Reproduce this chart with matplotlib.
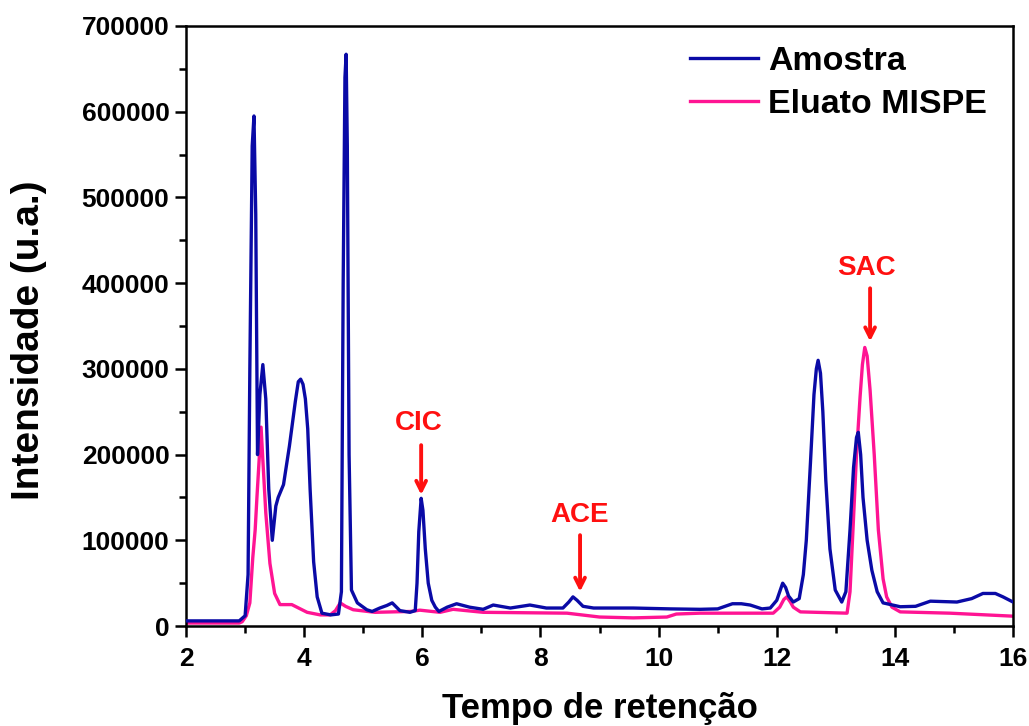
import matplotlib
matplotlib.use("Agg")
import matplotlib.pyplot as plt
from matplotlib.ticker import MultipleLocator

plt.rcParams['font.family'] = ['Liberation Sans', 'DejaVu Sans']
plt.rcParams['font.weight'] = 'bold'

# Amostra (azul)
amostra_t = [2.0, 2.9, 3.0, 3.05, 3.08, 3.12, 3.15, 3.18, 3.21, 3.25, 3.3, 3.35, 3.4,
             3.46, 3.52, 3.56, 3.65, 3.75, 3.85, 3.9, 3.94, 3.98, 4.02, 4.06, 4.1,
             4.16, 4.22, 4.3, 4.45, 4.58, 4.63, 4.66, 4.69, 4.71, 4.73, 4.76, 4.8, 4.9,
             5.06, 5.15, 5.28, 5.4, 5.49, 5.62, 5.79, 5.88, 5.91, 5.94, 5.98, 6.01,
             6.05, 6.1, 6.16, 6.22, 6.28, 6.42, 6.58, 6.8, 7.03, 7.2, 7.49, 7.82, 8.1,
             8.38, 8.48, 8.55, 8.62, 8.72, 8.9, 9.57, 10.2, 10.7, 11.0, 11.25, 11.4,
             11.55, 11.75, 11.89, 12.0, 12.06, 12.1, 12.15, 12.2, 12.28, 12.38, 12.45,
             12.5, 12.57, 12.63, 12.67, 12.7, 12.74, 12.78, 12.83, 12.9, 12.99, 13.1,
             13.17, 13.24, 13.3, 13.35, 13.38, 13.42, 13.46, 13.53, 13.61, 13.7, 13.8,
             14.09, 14.35, 14.6, 15.05, 15.3, 15.49, 15.7, 15.83, 16.0]
amostra_i = [6000, 6000, 12000, 60000, 300000, 560000, 595000, 480000, 200000, 270000,
             305000, 265000, 160000, 100000, 140000, 150000, 165000, 210000, 262000,
             285000, 288000, 282000, 265000, 230000, 160000, 75000, 34000, 15000,
             13000, 14000, 40000, 400000, 640000, 667000, 560000, 200000, 42000, 27000,
             19000, 17000, 21000, 24000, 27000, 18000, 16000, 18000, 50000, 110000,
             149000, 135000, 90000, 50000, 30000, 22000, 17000, 22000, 26000, 22000,
             19500, 24500, 21000, 24500, 21000, 21000, 28000, 34000, 30000, 23000,
             21000, 21000, 20000, 19500, 20000, 26000, 26000, 24500, 20000, 21000,
             30000, 42000, 50000, 45000, 35000, 28000, 32000, 60000, 100000, 190000,
             270000, 300000, 310000, 295000, 250000, 170000, 90000, 42000, 28000,
             40000, 112000, 185000, 220000, 226000, 200000, 150000, 100000, 65000,
             40000, 27000, 22500, 23000, 29000, 28000, 32000, 38000, 38000, 34000,
             28000]

# Eluato MISPE (rosa)
eluato_t = [2.0, 2.9, 2.95, 3.02, 3.08, 3.13, 3.17, 3.2, 3.24, 3.27, 3.3, 3.35, 3.42,
            3.5, 3.59, 3.79, 4.05, 4.27, 4.44, 4.53, 4.61, 4.7, 4.83, 5.2, 5.8, 5.96,
            6.3, 6.52, 7.03, 8.45, 9.0, 9.57, 10.14, 10.3, 10.7, 11.55, 11.94, 12.05,
            12.12, 12.17, 12.23, 12.28, 12.4, 13.19, 13.24, 13.29, 13.35, 13.41,
            13.45, 13.49, 13.53, 13.58, 13.65, 13.72, 13.8, 13.86, 13.95, 14.09,
            14.93, 16.0]
eluato_i = [3500, 3500, 5000, 12000, 27000, 80000, 112000, 150000, 197000, 232000,
            194000, 132000, 73000, 38000, 25000, 25000, 16000, 13000, 13000, 18000,
            27000, 23000, 19000, 16000, 17000, 18500, 16000, 19500, 16000, 15000,
            10500, 9500, 10500, 14000, 15000, 15000, 15000, 22000, 31000, 34000,
            28000, 22000, 16500, 15000, 40000, 112000, 200000, 267000, 305000,
            325000, 315000, 275000, 200000, 112000, 55000, 34000, 22000, 16500,
            15000, 11500]

# Anotações: rótulo, posição do texto, cauda e ponta da seta
picos = ['CIC', 'ACE', 'SAC']
pico_texto = [(5.94, 237000), (8.67, 129500), (13.51, 418000)]
pico_cauda = [(5.98, 211000), (8.67, 106000), (13.58, 394000)]
pico_ponta = [(5.98, 153000), (8.67, 40000), (13.58, 332000)]

fig = plt.figure(figsize=(10.29, 7.26), dpi=100)
ax = fig.add_axes([0.1808, 0.1377, 0.8037, 0.8265])

ax.plot(amostra_t, amostra_i, color='#0A0AA6', lw=2.4, label='Amostra', zorder=3)
ax.plot(eluato_t, eluato_i, color='#FF1493', lw=2.4, label='Eluato MISPE', zorder=2)

for nome, txt, cauda, ponta in zip(picos, pico_texto, pico_cauda, pico_ponta):
    ax.text(txt[0], txt[1], nome, color='#FF1010', fontsize=20, fontweight='bold',
            ha='center', va='center')
    ax.annotate('', xy=ponta, xytext=cauda,
                arrowprops=dict(arrowstyle='->, head_length=0.7, head_width=0.35',
                                color='#FF1010', lw=2.8, shrinkA=0, shrinkB=0))

ax.set_xlim(2, 16)
ax.set_ylim(0, 700000)
ax.xaxis.set_major_locator(MultipleLocator(2))
ax.xaxis.set_minor_locator(MultipleLocator(1))
ax.yaxis.set_major_locator(MultipleLocator(100000))
ax.yaxis.set_minor_locator(MultipleLocator(50000))
ax.tick_params(which='major', direction='out', length=8, width=1.8, labelsize=19, pad=4)
ax.tick_params(axis='x', which='major', pad=7)
ax.tick_params(which='minor', direction='out', length=5, width=1.8)
ax.tick_params(top=False, right=False, which='both')
for lab in ax.get_xticklabels() + ax.get_yticklabels():
    lab.set_fontweight('bold')
for s in ax.spines.values():
    s.set_linewidth(1.8)

ax.set_xlabel('Tempo de retenção', fontsize=25, fontweight='bold')
ax.xaxis.set_label_coords(0.5, -0.11)
ax.set_ylabel('Intensidade (u.a.)', fontsize=28, fontweight='bold')
ax.yaxis.set_label_coords(-0.168, 0.477)

ax.legend(loc='upper left', bbox_to_anchor=(0.609, 0.967), frameon=False,
          handlelength=2.0, handletextpad=0.3, labelspacing=0.35, borderpad=0,
          borderaxespad=0, prop={'weight': 'bold', 'size': 24.5})

fig.savefig('out.png', dpi=100)
